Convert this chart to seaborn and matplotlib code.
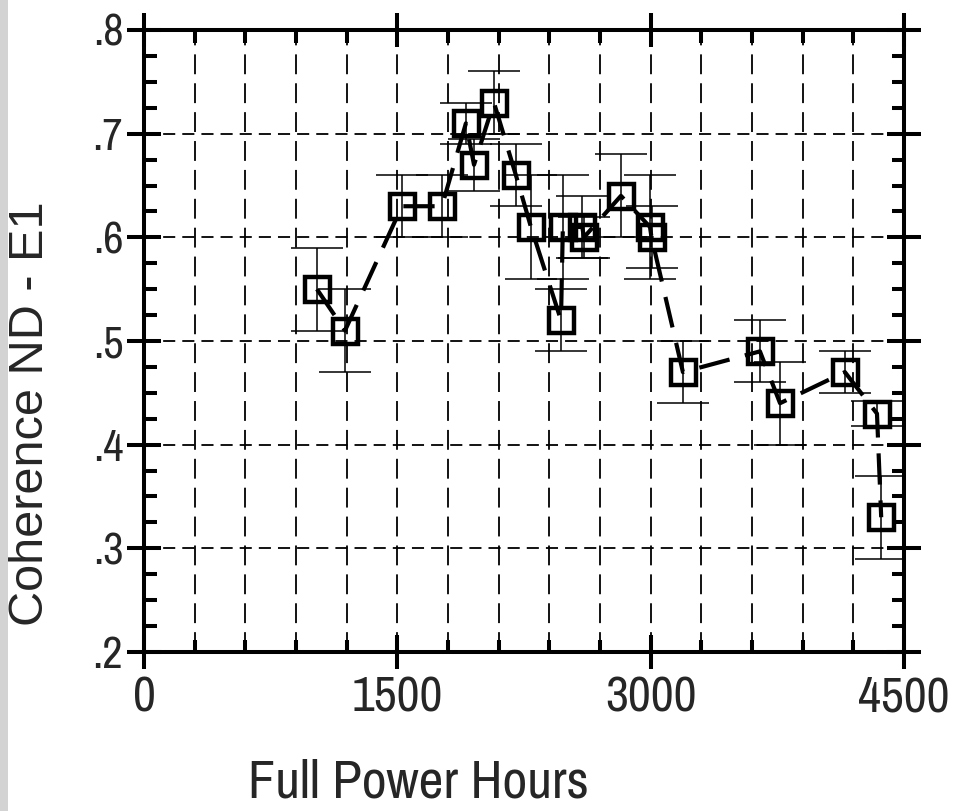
import matplotlib
matplotlib.use("Agg")
import matplotlib.pyplot as plt
from matplotlib.patches import Rectangle
from matplotlib.ticker import MultipleLocator, FixedLocator, FuncFormatter
import numpy as np
import pandas as pd
import seaborn as sns

# Coherence ND - E1 measurements versus full power hours
hours = [1024, 1190, 1527, 1764, 1906, 1954, 2072, 2202, 2291, 2469, 2480,
         2595, 2605, 2824, 2996, 3005, 3191, 3647, 3766, 4150, 4340, 4365]
coherence = [0.55, 0.51, 0.63, 0.63, 0.71, 0.67, 0.73, 0.66, 0.61, 0.52, 0.61,
             0.61, 0.60, 0.64, 0.61, 0.60, 0.47, 0.49, 0.44, 0.47, 0.43, 0.33]
coherence_err = [0.04, 0.04, 0.03, 0.03, 0.02, 0.025, 0.03, 0.03, 0.05, 0.03, 0.05,
                 0.03, 0.02, 0.04, 0.05, 0.03, 0.03, 0.03, 0.04, 0.02, 0.012, 0.04]

x_ticks = [0, 1500, 3000, 4500]
y_ticks = [0.2, 0.3, 0.4, 0.5, 0.6, 0.7, 0.8]

df = pd.DataFrame({"hours": hours, "coherence": coherence, "err": coherence_err})

sns.set_style("white")
plt.rcParams["font.family"] = ["Liberation Sans", "DejaVu Sans"]
narrow = ["Archivo Narrow", "Roboto Condensed", "Liberation Sans", "DejaVu Sans"]

fig = plt.figure(figsize=(9.54, 8.11), dpi=100)
fig.patch.set_facecolor("white")
fig.patches.append(Rectangle((0, 0), 8 / 954, 1, transform=fig.transFigure,
                             facecolor="#d3d3d3", edgecolor="none", zorder=0))

ax = fig.add_axes([144 / 954, 1 - 652 / 811, 760 / 954, 622 / 811])
ax.set_facecolor("white")

# error bars
ax.errorbar(df["hours"], df["coherence"], yerr=df["err"], fmt="none",
            ecolor="black", elinewidth=1.1, capsize=18.5, capthick=1.1, zorder=3)

# dashed connecting line with open square markers
sns.lineplot(data=df, x="hours", y="coherence", ax=ax, color="black",
             estimator=None, sort=True, linewidth=3.0,
             linestyle=(0, (7.5, 3.8)), marker="s", markersize=18,
             markerfacecolor="none", markeredgecolor="black",
             markeredgewidth=3.2, zorder=4)

ax.set_xlim(0, 4500)
ax.set_ylim(0.2, 0.8)

ax.xaxis.set_major_locator(FixedLocator(x_ticks))
ax.xaxis.set_minor_locator(MultipleLocator(300))
ax.yaxis.set_major_locator(FixedLocator(y_ticks))
ax.yaxis.set_minor_locator(MultipleLocator(0.025))
ax.yaxis.set_major_formatter(FuncFormatter(lambda v, p: f"{v:.1f}".lstrip("0")))

# grid
ax.set_axisbelow(True)
ax.grid(which="both", axis="x", color="black", linewidth=1.3,
        linestyle=(0, (11, 5)))
ax.grid(which="major", axis="y", color="black", linewidth=1.3,
        linestyle=(0, (6.7, 3.9)))

for s in ax.spines.values():
    s.set_linewidth(2.9)
    s.set_color("black")
    s.set_visible(True)

ax.tick_params(which="major", direction="inout", length=24, width=2.9,
               top=True, right=True, bottom=True, left=True,
               labeltop=False, labelright=False, color="black")
ax.tick_params(which="minor", direction="in", length=9, width=2.9,
               top=True, right=True, bottom=True, left=True, color="black")
ax.tick_params(axis="x", which="major", pad=5)
ax.tick_params(axis="y", which="major", pad=3)

for lab in ax.get_xticklabels():
    lab.set_fontfamily(narrow)
    lab.set_fontsize(36)
for lab in ax.get_yticklabels():
    lab.set_fontfamily(narrow)
    lab.set_fontsize(32)

ax.set_xlabel("Full Power Hours", fontsize=39, family=narrow)
ax.xaxis.set_label_coords((418 - 144) / 760, -0.172)
ax.set_ylabel("Coherence ND - E1", fontsize=35)
ax.yaxis.set_label_coords((53 - 144) / 760, (652 - 414) / 622)

fig.savefig("out.png", dpi=100)
